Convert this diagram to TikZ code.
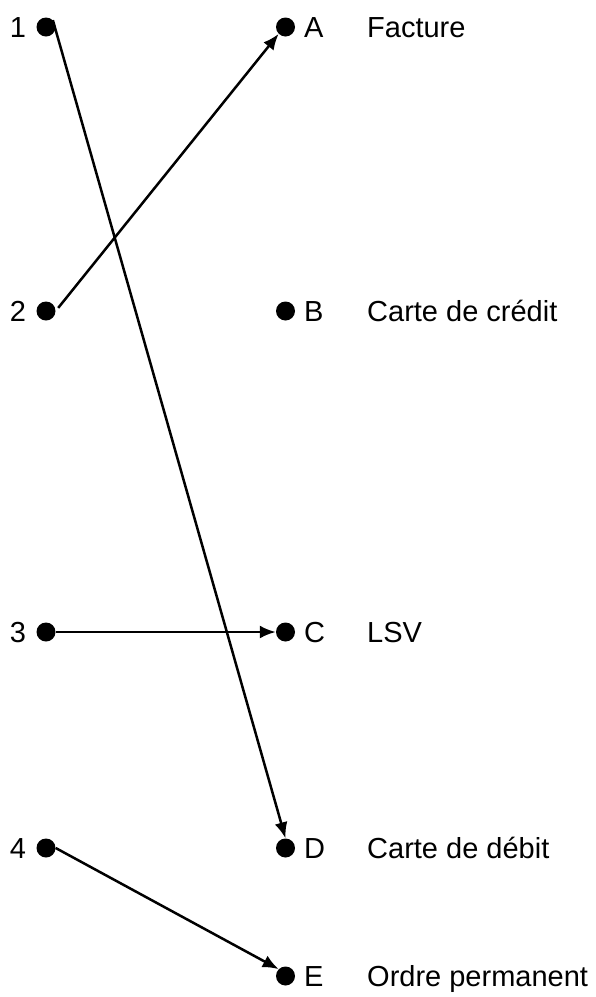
\documentclass[tikz,border=0pt]{standalone}
\usepackage{fontspec}
\setmainfont{Liberation Sans}
\usetikzlibrary{arrows.meta}
\begin{document}
\begin{tikzpicture}[x=1pt, y=-1pt,
	punkt/.style={circle, fill, inner sep=0pt, minimum size=19pt},
	zahl/.style={anchor=base, inner sep=0pt, font=\fontsize{29}{35}\selectfont},
	beschr/.style={anchor=base west, inner sep=0pt, font=\fontsize{29}{35}\selectfont},
	pfeil/.style={line width=2.5pt, -{Latex[length=16pt, width=13pt]}}]
	\useasboundingbox (0,0) rectangle (595,997);
	
	%linke Spalte
	\node[punkt] (p1) at (46, 27) {};
	\node[punkt] (p2) at (46, 311) {};
	\node[punkt] (p3) at (46, 632) {};
	\node[punkt] (p4) at (46, 848) {};
	\node[zahl] (n1) at (18, 37.5) {1};
	\node[zahl] (n2) at (18, 321.5) {2};
	\node[zahl] (n3) at (18, 642.5) {3};
	\node[zahl] (n4) at (18, 858.5) {4};
	
	%rechte Spalte
	\node[punkt] (pA) at (285.5, 27) {};
	\node[punkt] (pB) at (285.5, 311) {};
	\node[punkt] (pC) at (285.5, 632) {};
	\node[punkt] (pD) at (285.5, 848) {};
	\node[punkt] (pE) at (285.5, 976) {};
	\node[beschr] (lA) at (304, 37.5) {A};
	\node[beschr] (lB) at (304, 321.5) {B};
	\node[beschr] (lC) at (304, 642.5) {C};
	\node[beschr] (lD) at (304, 858.5) {D};
	\node[beschr] (lE) at (304, 986.5) {E};
	
	\node[beschr] (tA) at (367, 37.5) {Facture};
	\node[beschr] (tB) at (367, 321.5) {Carte de crédit};
	\node[beschr] (tC) at (367, 642.5) {LSV};
	\node[beschr] (tD) at (367, 858.5) {Carte de débit};
	\node[beschr] (tE) at (367, 986.5) {Ordre permanent};
	
	%Zuordnungen
	\draw[pfeil] (p1.north east) -- (pD.north);
	\draw[pfeil, shorten <=4pt] (p2.east) -- (pA.south west);
	\draw[pfeil] (p3.east) -- (pC.west);
	\draw[pfeil] (p4.east) -- (pE.north west);
\end{tikzpicture}
\end{document}
